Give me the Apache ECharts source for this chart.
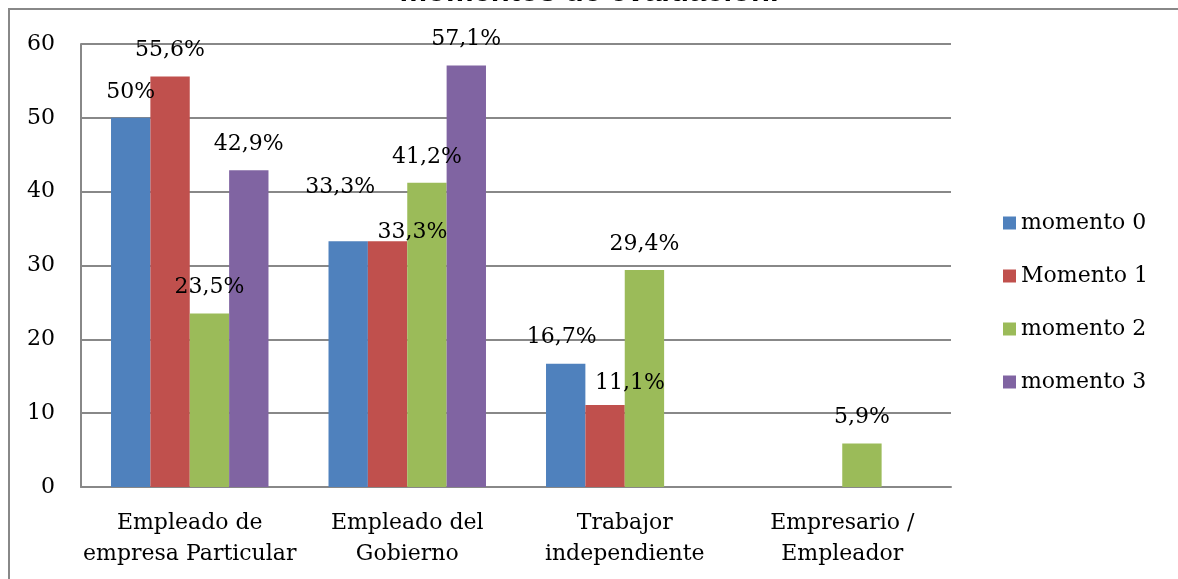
<!DOCTYPE html>
<html>
<head>
<meta charset="utf-8">
<script src="https://cdn.jsdelivr.net/npm/echarts@6/dist/echarts.min.js"></script>
<style>
  html, body { margin: 0; padding: 0; background: #fff; overflow: hidden; }
  #wrap { position: relative; width: 1178px; height: 579px; overflow: hidden; }
  #chart { width: 1178px; height: 579px; }
  .edge { position: absolute; background: #888; pointer-events: none; }
  #edge-top { left: 8px; top: 8px; width: 1170px; height: 2px; }
  #edge-left { left: 8px; top: 8px; width: 2px; height: 571px; }
</style>
</head>
<body>
<div id="wrap">
  <div id="chart"></div>
  <div class="edge" id="edge-top"></div>
  <div class="edge" id="edge-left"></div>
</div>
<script>
const categories = [
  'Empleado de\nempresa Particular',
  'Empleado del\nGobierno',
  'Trabajor\nindependiente',
  'Empresario /\nEmpleador'
];
const seriesNames = ['momento 0', 'Momento 1', 'momento 2', 'momento 3'];
const momento0 = [50, 33.3, 16.7, null];
const momento1 = [55.6, 33.3, 11.1, null];
const momento2 = [23.5, 41.2, 29.4, 5.9];
const momento3 = [42.9, 57.1, null, null];
const yTicks = { min: 0, max: 60, interval: 10 };

const colors = ['#4F81BD', '#C0504D', '#9BBB59', '#8064A2'];
// labels nudged like in the source chart, key = series-category
const labelShift = {
  '0-1': [-8, -28],
  '0-2': [-4, 0],
  '1-1': [25, 17],
  '1-2': [25, 4]
};

const font = 'DejaVu Serif';
const values = [momento0, momento1, momento2, momento3];

const chart = echarts.init(document.getElementById('chart'));
chart.setOption({
  animation: false,
  backgroundColor: '#fff',
  title: {
    text: 'momentos de evaluación.',
    left: 'center',
    top: -28,
    textStyle: { fontFamily: 'Liberation Sans', fontWeight: 'bold', fontSize: 31, color: '#000' }
  },
  legend: {
    orient: 'vertical',
    left: 1003,
    top: 212,
    padding: 0,
    itemWidth: 13,
    itemHeight: 13,
    itemGap: 31,
    icon: 'rect',
    data: seriesNames,
    textStyle: { fontFamily: font, fontSize: 22, color: '#000' }
  },
  grid: { left: 81, top: 44, right: 227, bottom: 92 },
  xAxis: {
    type: 'category',
    data: categories,
    axisLine: { lineStyle: { color: '#888', width: 2 } },
    axisTick: { show: false },
    axisLabel: {
      interval: 0,
      margin: 21,
      lineHeight: 31,
      fontFamily: font,
      fontSize: 22,
      color: '#000'
    }
  },
  yAxis: {
    type: 'value',
    min: yTicks.min,
    max: yTicks.max,
    interval: yTicks.interval,
    axisLine: { show: true, lineStyle: { color: '#888', width: 2 } },
    axisTick: { show: false },
    splitLine: { lineStyle: { color: '#888', width: 2 } },
    axisLabel: { margin: 26, fontFamily: font, fontSize: 22, color: '#000' }
  },
  series: seriesNames.map((name, s) => ({
    name,
    type: 'bar',
    barGap: '0%',
    barCategoryGap: '27.6%',
    itemStyle: { color: colors[s] },
    label: {
      show: true,
      position: 'top',
      distance: 15,
      fontFamily: font,
      fontSize: 22,
      color: '#000',
      formatter: (p) => String(p.value).replace('.', ',') + '%'
    },
    data: values[s].map((v, i) => {
      const shift = labelShift[s + '-' + i];
      return shift ? { value: v, label: { offset: shift } } : v;
    })
  }))
});
</script>
</body>
</html>
